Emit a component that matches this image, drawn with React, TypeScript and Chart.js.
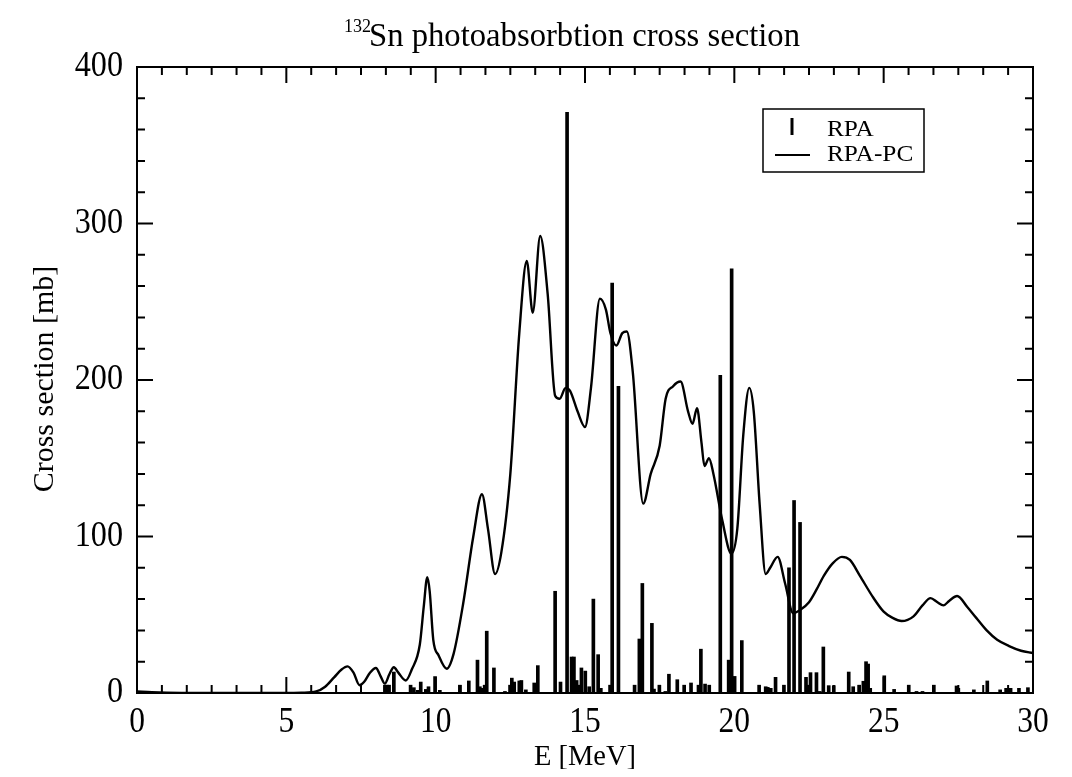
import React, { useEffect, useRef } from "react";
import { Chart, registerables } from "chart.js";

Chart.register(...registerables);

// RPA-PC smooth curve (E in MeV, cross section in mb)
const curveE = [0, 0.5, 1, 2, 3, 4, 5, 5.5, 6, 6.3, 6.6, 6.85, 7.05, 7.25, 7.45, 7.6, 7.8, 8.0, 8.15, 8.3, 8.45, 8.6, 8.75, 9.0, 9.2, 9.47, 9.6, 9.72, 9.8, 9.92, 10.1, 10.37, 10.6, 10.92, 11.26, 11.55, 11.75, 11.99, 12.2, 12.5, 12.8, 13.05, 13.25, 13.5, 13.75, 14.0, 14.15, 14.35, 14.5, 14.75, 15.0, 15.2, 15.5, 15.7, 15.85, 16.05, 16.25, 16.4, 16.6, 16.95, 17.2, 17.5, 17.7, 17.95, 18.2, 18.45, 18.6, 18.75, 18.9, 19.0, 19.15, 19.3, 19.6, 19.9, 20.1, 20.3, 20.5, 20.65, 20.85, 21.05, 21.2, 21.45, 21.7, 21.97, 22.2, 22.5, 22.75, 23.0, 23.3, 23.6, 23.87, 24.2, 24.65, 25.0, 25.3, 25.6, 26.0, 26.3, 26.57, 26.8, 27.0, 27.2, 27.46, 27.8, 28.1, 28.45, 28.8, 29.2, 29.6, 30];
const curveSigma = [1, 0.5, 0.2, 0, 0, 0, 0, 0.2, 1, 4, 10, 15, 17, 13, 5, 7, 13, 16, 11, 6, 12, 16.5, 13, 8, 15, 31, 55, 74, 65, 34, 24, 15.5, 25, 57, 100, 127, 105, 76, 90, 140, 230, 276, 243, 292, 255, 190, 188, 195, 193, 180, 170, 195, 252, 245, 230, 222, 230, 231, 205, 121, 140, 158, 188, 196, 199, 180, 172, 182, 160, 145, 150, 140, 110, 89, 105, 165, 195, 180, 120, 76, 80, 87, 70, 51, 53, 58, 66, 75, 83, 87, 85, 75, 61, 52, 48, 46, 49, 56, 60.6, 58, 56, 59, 62, 55, 48, 40, 34, 30, 27, 25.5];

// RPA discrete strengths
const rpaE = [8.30, 8.37, 8.44, 8.60, 9.16, 9.27, 9.40, 9.50, 9.67, 9.76, 9.98, 10.14, 10.81, 11.11, 11.40, 11.48, 11.57, 11.64, 11.71, 11.95, 12.32, 12.49, 12.55, 12.63, 12.80, 12.87, 13.02, 13.30, 13.42, 14.00, 14.18, 14.40, 14.55, 14.63, 14.72, 14.80, 14.88, 15.01, 15.14, 15.28, 15.44, 15.53, 15.84, 15.91, 16.12, 16.66, 16.82, 16.92, 17.24, 17.31, 17.49, 17.69, 17.81, 18.09, 18.32, 18.55, 18.80, 18.88, 19.02, 19.16, 19.53, 19.81, 19.91, 20.01, 20.25, 20.83, 21.05, 21.12, 21.22, 21.38, 21.66, 21.83, 22.00, 22.20, 22.40, 22.47, 22.55, 22.75, 22.86, 22.98, 23.16, 23.33, 23.83, 23.98, 24.18, 24.32, 24.41, 24.48, 24.55, 25.02, 25.35, 25.84, 26.10, 26.30, 26.68, 27.44, 27.50, 28.02, 28.47, 28.90, 29.10, 29.25, 29.53, 29.83];
const rpaSigma = [5, 5, 5, 13.4, 5, 3.4, 1.7, 7, 2.3, 4, 10.5, 1.7, 5, 7.7, 21, 4, 3, 5, 39.5, 16, 1, 5, 9.5, 7, 7.7, 8, 2, 6.4, 17.5, 65, 7, 371, 23, 23, 8, 5, 16, 14, 4, 60, 24.5, 3, 5, 262, 196, 5, 34.5, 70, 44.5, 2.5, 5, 1, 12, 8.5, 5, 6.4, 5, 28, 5.7, 5, 203, 21, 271, 10.6, 33.5, 5, 4, 3.6, 3, 10, 5, 80, 123, 109, 10, 5, 13, 13, 1, 29.4, 4.7, 4.7, 13.4, 4, 5, 7.5, 20, 18.5, 3, 11, 2.3, 5, 1, 1, 5, 4.5, 3, 2, 7.7, 2, 3, 3, 3, 3.4];

const xMajorTicks = [0, 5, 10, 15, 20, 25, 30];
const yMajorTicks = [0, 100, 200, 300, 400];
const titleSup = "132";
const titleMain = "Sn photoabsorbtion cross section";
const xTitle = "E [MeV]";
const yTitle = "Cross section [mb]";
const legendLabels = ["RPA", "RPA-PC"];

const SERIF = '"Liberation Serif", "Times New Roman", serif';

function txt(ctx: CanvasRenderingContext2D, s: string, x: number, y: number, size: number, align: CanvasTextAlign, baseline: CanvasTextBaseline, sx = 0.88, rot = 0) {
  ctx.save();
  ctx.translate(x, y);
  if (rot) ctx.rotate(rot);
  ctx.scale(sx, 1);
  ctx.font = `${size}px ${SERIF}`;
  ctx.fillStyle = "#000";
  ctx.textAlign = align;
  ctx.textBaseline = baseline;
  ctx.fillText(s, 0, 0);
  ctx.restore();
}

const framePlugin = {
  id: "framePlugin",
  afterDraw(chart: any) {
    const ctx: CanvasRenderingContext2D = chart.ctx;
    const { left, right, top, bottom } = chart.chartArea;
    const xs = chart.scales.x;
    const ys = chart.scales.y;
    ctx.save();
    ctx.strokeStyle = "#000";
    ctx.lineWidth = 2;
    ctx.strokeRect(left, top, right - left, bottom - top);
    const MAJ = 16, MIN = 8;
    for (let i = 0; i <= 36; i++) {
      const v = (i * 5) / 6;
      const px = xs.getPixelForValue(v);
      const len = i % 6 === 0 ? MAJ : MIN;
      ctx.beginPath();
      ctx.moveTo(px, bottom);
      ctx.lineTo(px, bottom - len);
      ctx.moveTo(px, top);
      ctx.lineTo(px, top + len);
      ctx.stroke();
    }
    for (let v = 0; v <= 400; v += 20) {
      const py = ys.getPixelForValue(v);
      const len = v % 100 === 0 ? MAJ : MIN;
      ctx.beginPath();
      ctx.moveTo(left, py);
      ctx.lineTo(left + len, py);
      ctx.moveTo(right, py);
      ctx.lineTo(right - len, py);
      ctx.stroke();
    }
    xMajorTicks.forEach((v) => {
      txt(ctx, String(v), xs.getPixelForValue(v), bottom + 30, 35, "center", "middle", 0.9);
    });
    yMajorTicks.forEach((v) => {
      txt(ctx, String(v), left - 14, ys.getPixelForValue(v), 35, "right", "middle", 0.92);
    });
    txt(ctx, xTitle, (left + right) / 2, bottom + 64, 30, "center", "middle", 0.95);
    txt(ctx, yTitle, 37, (top + bottom) / 2 - 1, 30, "center", "middle", 1.0, -Math.PI / 2);
    txt(ctx, titleSup, 336, 24, 19, "left", "alphabetic", 0.95);
    txt(ctx, titleMain, 361, 38, 33, "left", "alphabetic", 0.99);
    ctx.lineWidth = 1.5;
    ctx.strokeRect(755, 101, 161, 63);
    ctx.lineWidth = 3;
    ctx.beginPath();
    ctx.moveTo(784, 110);
    ctx.lineTo(784, 127);
    ctx.stroke();
    ctx.lineWidth = 2;
    ctx.beginPath();
    ctx.moveTo(767, 147);
    ctx.lineTo(802, 147);
    ctx.stroke();
    txt(ctx, legendLabels[0], 819, 122, 23, "left", "middle", 1.1);
    txt(ctx, legendLabels[1], 819, 147, 23, "left", "middle", 1.1);
    ctx.restore();
  },
};

export default function App() {
  const ref = useRef<HTMLCanvasElement>(null);
  useEffect(() => {
    if (!ref.current) return;
    const chart = new Chart(ref.current, {
      type: "bar",
      data: {
        datasets: [
          {
            type: "bar",
            label: legendLabels[0],
            data: rpaE.map((e, i) => ({ x: e, y: rpaSigma[i] })),
            backgroundColor: "#000",
            borderWidth: 0,
            barThickness: 3,
            grouped: false,
          } as any,
          {
            type: "line",
            label: legendLabels[1],
            data: curveE.map((e, i) => ({ x: e, y: curveSigma[i] })),
            borderColor: "#000",
            borderWidth: 2.4,
            pointRadius: 0,
            fill: false,
            cubicInterpolationMode: "monotone",
          } as any,
        ],
      },
      options: {
        animation: false,
        responsive: false,
        events: [],
        layout: { padding: { left: 129, right: 31, top: 59, bottom: 76 } },
        plugins: { legend: { display: false }, tooltip: { enabled: false }, title: { display: false } },
        scales: {
          x: { type: "linear", min: 0, max: 30, offset: false, display: false },
          y: { type: "linear", min: 0, max: 400, display: false },
        },
      },
      plugins: [framePlugin],
    });
    return () => chart.destroy();
  }, []);
  return <canvas ref={ref} width={1056} height={761} style={{ display: "block" }} />;
}
